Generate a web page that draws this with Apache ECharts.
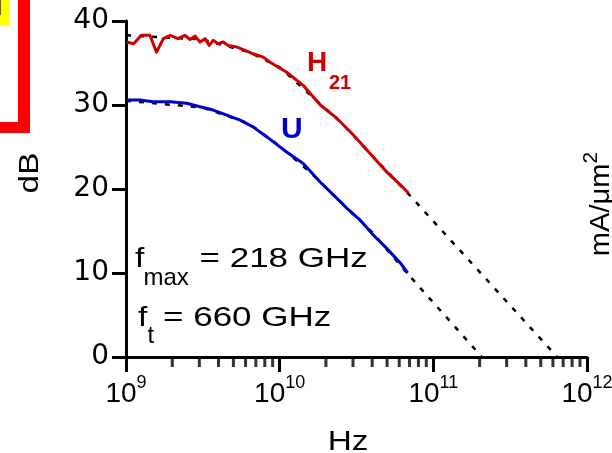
<!DOCTYPE html>
<html>
<head>
<meta charset="utf-8">
<title>H21 / U</title>
<script src="https://cdn.jsdelivr.net/npm/echarts@6/dist/echarts.min.js"></script>
<style>
html, body { margin: 0; padding: 0; background: #fff; }
#chart { width: 612px; height: 453px; }
</style>
</head>
<body>
<div id="chart"></div>
<script>
// 频率单位 GHz, 增益单位 dB
var h21Freq = [1.01, 1.12, 1.26, 1.43, 1.58, 1.75, 1.94, 2.18, 2.42, 2.61, 2.82, 3.03, 3.27, 3.48, 3.69, 3.97, 4.29, 4.61, 5.28, 5.96, 6.71, 7.82, 8.67, 11.1, 14.3, 18.4, 23.6, 30.3, 38.9, 49.9, 61.0, 69.0];
var h21Db = [37.5, 37.3, 38.3, 38.3, 36.3, 37.9, 38.3, 37.9, 38.3, 37.8, 38.2, 37.5, 37.9, 37.1, 37.7, 37.3, 37.5, 37.1, 36.9, 36.5, 36.1, 35.7, 35.1, 33.9, 32.3, 30.0, 28.4, 26.4, 24.2, 22.0, 20.5, 19.5];

var uFreq = [1.01, 1.23, 1.50, 1.94, 2.48, 3.03, 3.69, 4.53, 5.53, 6.71, 8.26, 11.1, 14.3, 18.4, 24.8, 27.4, 33.4, 40.8, 49.9, 61.0, 68.1];
var uDb = [30.6, 30.6, 30.4, 30.4, 30.2, 29.8, 29.4, 28.8, 28.2, 27.4, 26.2, 24.4, 23.0, 20.8, 18.5, 17.7, 16.3, 14.5, 12.9, 11.2, 10.0];

// 拟合虚线 (ft = 660 GHz, fmax = 218 GHz)
var h21FitFreq = [1, 3.16, 6.31, 10, 15.8, 25.1, 39.8, 69.0, 640];
var h21FitDb = [38.3, 37.8, 36.3, 34.5, 31.2, 27.9, 24.0, 19.4, 0];
var uFitFreq = [1, 3.16, 6.31, 10, 15.8, 25.1, 39.8, 68.1, 207];
var uFitDb = [30.5, 29.7, 27.8, 25.1, 22.0, 18.4, 14.9, 9.9, 0];

// 刻度
var xTickValues = [1, 10, 100, 1000];
var xTickExponents = [9, 10, 11, 12];
var xMinorTicks = [2, 3, 4, 5, 6, 7, 8, 9, 20, 30, 40, 50, 60, 70, 80, 90, 200, 300, 400, 500, 600, 700, 800, 900];
var yTicks = [0, 10, 20, 30, 40];

var FONT = '"Liberation Sans", Arial, sans-serif';
var RED = '#cc0000';
var BLUE = '#0000cc';

function Pairs(xs, ys) {
    var out = [];
    for (var i = 0; i < xs.length; i++) {
        out.push([xs[i], ys[i]]);
    }
    return out;
}

//文字标注, sx 为横向拉伸
function Label(text, x, y, size, color, bold, sx) {
    return {
        type: 'text', x: x, y: y, z: 50, scaleX: sx || 1,
        style: {
            text: text, fontSize: size, fontFamily: FONT, fill: color,
            fontWeight: bold ? 'bold' : 'normal', align: 'left', verticalAlign: 'middle'
        }
    };
}

function InitChart(id) {
    var Chart = echarts.init(document.getElementById(id));
    Chart.setOption({
        animation: false,
        backgroundColor: '#fff',
        grid: {left: 126, right: 25, top: 21, bottom: 96, containLabel: false, outerBoundsMode: 'none'},
        xAxis: {
            type: 'log', logBase: 10,
            min: xTickValues[0], max: xTickValues[xTickValues.length - 1],
            axisLine: {show: true, lineStyle: {color: '#000', width: 3}},
            axisTick: {show: true, length: 15, lineStyle: {color: '#000', width: 3}},
            minorTick: {show: false},
            splitLine: {show: false},
            axisLabel: {
                margin: 17,
                formatter: function (v) {
                    var k = xTickValues.indexOf(Math.round(v));
                    return '{b|10}{s|' + xTickExponents[k] + '}';
                },
                rich: {
                    b: {fontSize: 28, lineHeight: 40, fontFamily: FONT, color: '#000'},
                    s: {fontSize: 18, lineHeight: 14, verticalAlign: 'top', fontFamily: FONT, color: '#000'}
                }
            }
        },
        yAxis: {
            type: 'value',
            min: yTicks[0], max: yTicks[yTicks.length - 1], interval: 10,
            axisLine: {show: true, lineStyle: {color: '#000', width: 3}},
            axisTick: {show: true, length: 14, lineStyle: {color: '#000', width: 3}},
            splitLine: {show: false},
            axisLabel: {margin: 17, fontSize: 28, color: '#000', fontFamily: '"DejaVu Sans", sans-serif'}
        },
        series: [
            //x轴小刻度
            {
                type: 'scatter', silent: true, clip: false, z: 1,
                symbol: 'rect', symbolSize: [3, 10], symbolOffset: [0, 5],
                itemStyle: {color: '#000'},
                data: xMinorTicks.map(function (v) { return [v, 0]; })
            },
            {
                type: 'line', symbol: 'none', silent: true, z: 2,
                lineStyle: {color: '#000', width: 2.5, type: [5, 8]},
                data: Pairs(h21FitFreq, h21FitDb)
            },
            {
                type: 'line', symbol: 'none', silent: true, z: 2,
                lineStyle: {color: '#000', width: 2.5, type: [5, 8]},
                data: Pairs(uFitFreq, uFitDb)
            },
            {
                name: 'H21', type: 'line', symbol: 'none', z: 3,
                lineStyle: {color: RED, width: 3, join: 'round'},
                data: Pairs(h21Freq, h21Db)
            },
            {
                name: 'U', type: 'line', symbol: 'none', z: 3,
                lineStyle: {color: BLUE, width: 3, join: 'round'},
                data: Pairs(uFreq, uDb)
            }
        ],
        graphic: [
            //左上角的框
            {type: 'rect', shape: {x: 18, y: 0, width: 12, height: 133}, style: {fill: '#ff0000'}},
            {type: 'rect', shape: {x: 0, y: 122, width: 30, height: 11}, style: {fill: '#ff0000'}},
            {type: 'rect', shape: {x: 0, y: 0, width: 10, height: 26}, style: {fill: '#ffff00'}},
            {type: 'rect', shape: {x: 0, y: 0, width: 1, height: 15}, style: {fill: '#6b6b00'}},
            //坐标轴名
            {
                type: 'text', x: 30, y: 173, rotation: Math.PI / 2, scaleX: 1.19,
                style: {text: 'dB', fontSize: 28, fontFamily: FONT, fill: '#000', align: 'center', verticalAlign: 'middle'}
            },
            {
                type: 'text', x: 348, y: 442, scaleX: 1.19,
                style: {text: 'Hz', fontSize: 28, fontFamily: FONT, fill: '#000', align: 'center', verticalAlign: 'middle'}
            },
            {
                type: 'text', x: 601, y: 204, rotation: Math.PI / 2, scaleX: 1.04,
                style: {
                    text: '{n|mA/\u03bcm}{s|2}', align: 'center', verticalAlign: 'middle',
                    rich: {
                        n: {fontSize: 28, lineHeight: 40, fontFamily: FONT, fill: '#000'},
                        s: {fontSize: 20, lineHeight: 14, verticalAlign: 'top', fontFamily: FONT, fill: '#000'}
                    }
                }
            },
            //曲线标注
            Label('H', 307, 63.6, 28, RED, true),
            Label('21', 329, 83.8, 20, RED, true),
            Label('U', 281, 130, 30, BLUE, true),
            Label('f', 135, 259.3, 28, '#000', false, 1.2),
            Label('max', 143.5, 278.7, 24, '#000', false),
            Label('= 218 GHz', 199.5, 259.3, 28, '#000', false, 1.25),
            Label('f', 138, 318.3, 28, '#000', false, 1.2),
            Label('t', 147.5, 336.7, 24, '#000', false),
            Label('= 660 GHz', 163, 318.3, 28, '#000', false, 1.25)
        ]
    });
}

InitChart('chart');
</script>
</body>
</html>
